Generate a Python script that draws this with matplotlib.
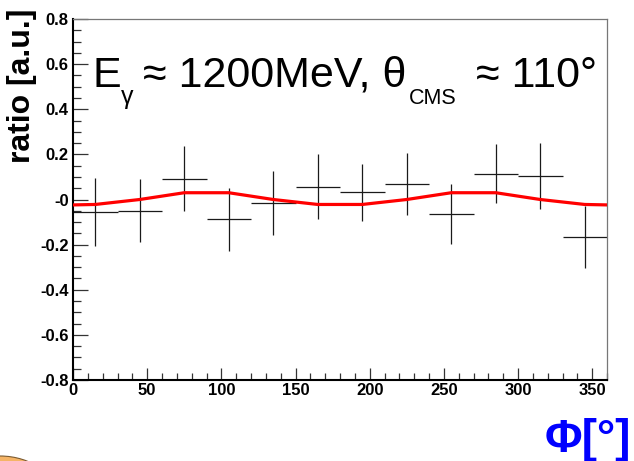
import matplotlib
matplotlib.use("Agg")
import matplotlib.pyplot as plt
from matplotlib.ticker import MultipleLocator, FixedLocator, FixedFormatter
from matplotlib.patches import Ellipse

# ---- data ----
phi_centers = [15, 45, 75, 105, 135, 165, 195, 225, 255, 285, 315, 345]
ratio_values = [-0.055, -0.05, 0.092, -0.088, -0.015, 0.057, 0.032, 0.069, -0.064, 0.114, 0.104, -0.166]
ratio_errors = [0.15, 0.14, 0.143, 0.14, 0.143, 0.143, 0.127, 0.136, 0.134, 0.131, 0.148, 0.137]
phi_halfwidth = [15] * 12

fit_phi = [0, 15, 45, 75, 105, 135, 165, 195, 225, 255, 285, 315, 345, 360]
fit_values = [-0.024, -0.022, 0.0, 0.03, 0.03, 0.0, -0.022, -0.022, 0.0, 0.03, 0.03, 0.0, -0.022, -0.024]

ytick_vals = [0.8, 0.6, 0.4, 0.2, 0.0, -0.2, -0.4, -0.6, -0.8]
ytick_labels = ["0.8", "0.6", "0.4", "0.2", "-0", "-0.2", "-0.4", "-0.6", "-0.8"]
xtick_vals = [0, 50, 100, 150, 200, 250, 300, 350]
xtick_labels = ["0", "50", "100", "150", "200", "250", "300", "350"]

W, H = 634, 461
FONT = ["Liberation Sans", "DejaVu Sans"]
plt.rcParams["font.family"] = FONT

fig = plt.figure(figsize=(W / 100, H / 100), dpi=100)
fig.patch.set_facecolor("white")

def px(x, y):
    return (x / W, 1 - y / H)

ax = fig.add_axes([73 / W, 1 - 380 / H, (607 - 73) / W, (380 - 19) / H])
ax.set_xlim(0, 360)
ax.set_ylim(-0.8, 0.8)

ax.errorbar(phi_centers, ratio_values, xerr=phi_halfwidth, yerr=ratio_errors,
            fmt="none", ecolor="#1a1a1a", elinewidth=0.9, capsize=0, zorder=2)
ax.plot(fit_phi, fit_values, color="#ff0000", lw=2.3, zorder=3)

# spines
for s in ["left", "bottom"]:
    ax.spines[s].set_color("black")
    ax.spines[s].set_linewidth(1.5)
for s in ["top", "right"]:
    ax.spines[s].set_color("#777777")
    ax.spines[s].set_linewidth(0.9)

ax.yaxis.set_major_locator(FixedLocator(ytick_vals))
ax.yaxis.set_major_formatter(FixedFormatter(ytick_labels))
ax.yaxis.set_minor_locator(MultipleLocator(0.05))
ax.xaxis.set_major_locator(FixedLocator(xtick_vals))
ax.xaxis.set_major_formatter(FixedFormatter(xtick_labels))
ax.xaxis.set_minor_locator(MultipleLocator(10))

ax.tick_params(axis="y", which="major", direction="in", length=10.8, width=0.9,
               color="#333333", pad=3.2, labelsize=12)
ax.tick_params(axis="y", which="minor", direction="in", length=5.8, width=0.9, color="#333333")
ax.tick_params(axis="x", which="major", direction="in", length=8.6, width=0.9,
               color="#333333", pad=2.5, labelsize=12)
ax.tick_params(axis="x", which="minor", direction="in", length=5.0, width=0.9, color="#333333")
ax.tick_params(top=False, right=False, which="both")
for lab in ax.get_xticklabels() + ax.get_yticklabels():
    lab.set_fontweight("bold")

# y label
fig.text(*px(22, 86), "ratio [a.u.]", rotation=90, ha="center", va="center",
         fontsize=23, fontweight="bold", family=FONT)

# title pieces
big = 31
fig.text(*px(92, 87), "E", fontsize=big, ha="left", va="baseline", family=FONT)
fig.text(*px(121, 104), "\u03b3", fontsize=18, ha="left", va="baseline", family=FONT)
fig.text(*px(143, 87), "\u2248 1200MeV, \u03b8", fontsize=big, ha="left", va="baseline", family=FONT)
fig.text(*px(409, 104), "CMS", fontsize=15.5, ha="left", va="baseline", family=FONT)
fig.text(*px(476, 87), "\u2248 110\u00b0", fontsize=big, ha="left", va="baseline", family=FONT)

# x label
fig.text(*px(631, 452), "\u03a6[\u00b0]", fontsize=33, fontweight="bold", color="#0000ff",
         ha="right", va="baseline", family=FONT)

# orange decoration at bottom-left corner
e = Ellipse(px(0, 500), width=116 / W, height=88 / H, transform=fig.transFigure,
            facecolor="#f5b466", edgecolor="#7a5a30", lw=0.8, zorder=0)
fig.patches.append(e)

fig.savefig("out.png", dpi=100)
